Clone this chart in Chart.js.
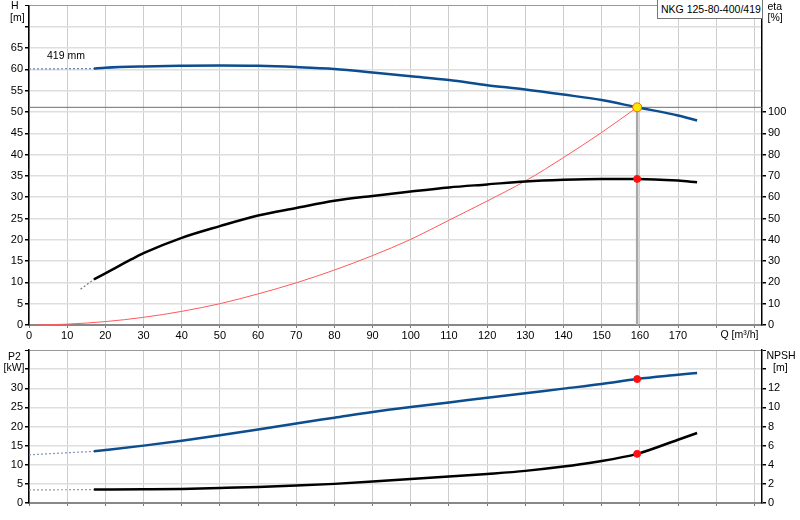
<!DOCTYPE html>
<html>
<head>
<meta charset="utf-8">
<script src="https://cdn.jsdelivr.net/npm/chart.js@4.4.1/dist/chart.umd.min.js"></script>
<style>
  html, body { margin: 0; padding: 0; background: #fff; }
  #wrap { position: relative; width: 800px; height: 520px; overflow: hidden; font-family: "Liberation Sans", Arial, sans-serif; font-size: 10.5px; color: #000; }
  canvas { position: absolute; left: 0; }
  #top { top: 0; }
  #bottom { top: 345px; }
  .t { position: absolute; line-height: 12px; white-space: nowrap; z-index: 2; }
  #model { position: absolute; left: 657px; top: -1px; width: 101px; height: 18px; border: 1px solid #777; background: #fff; line-height: 19px; padding-left: 3px; z-index: 2; white-space: nowrap; }
</style>
</head>
<body>
<div id="wrap">
  <canvas id="top" width="800" height="345"></canvas>
  <canvas id="bottom" width="800" height="175"></canvas>
  <div class="t" style="left:11px;top:-1.5px">H</div>
  <div class="t" style="left:10px;top:10.5px">[m]</div>
  <div class="t" style="left:767.5px;top:-0.5px">eta</div>
  <div class="t" style="left:767.5px;top:10.5px">[%]</div>
  <div class="t" style="left:720.5px;top:328px">Q [m³/h]</div>
  <div class="t" style="left:47px;top:48.5px">419 mm</div>
  <div id="model">NKG 125-80-400/419</div>
  <div class="t" style="left:8px;top:349.5px">P2</div>
  <div class="t" style="left:3.5px;top:360.5px">[kW]</div>
  <div class="t" style="left:766.5px;top:349px">NPSH</div>
  <div class="t" style="left:773px;top:360.5px">[m]</div>
</div>
<script>
// flow axis
const qMax = 192;

// head curve H [m]
const qH = [17, 20, 30, 40, 50, 60, 70, 80, 90, 100, 110, 120, 130, 140, 150, 159.3, 170, 175];
const hVals = [60.2, 60.4, 60.7, 60.85, 60.93, 60.85, 60.55, 60.1, 59.3, 58.4, 57.5, 56.3, 55.3, 54.1, 52.8, 51.1, 49.2, 48.0];
const qHDot = [0, 17];
const hDot = [60.1, 60.2];

// efficiency eta [%]
const qEta = [17, 20, 27, 30, 40, 50, 60, 70, 80, 90, 100, 110, 120, 130, 140, 150, 159.3, 170, 175];
const etaVals = [21.4, 24.2, 31.0, 33.7, 40.9, 46.4, 51.4, 54.9, 58.3, 60.6, 62.7, 64.6, 66, 67.4, 68.2, 68.6, 68.6, 67.8, 67.0];
const qEtaDot = [13.5, 17];
const etaDot = [16.8, 21.4];

// system curve
const qSys = [1.5, 10, 20, 30, 40, 50, 60, 70, 80, 90, 100, 110, 120, 130, 140, 150, 159.3];
const hSys = [0, 0.2, 0.8, 1.8, 3.2, 5.0, 7.3, 9.9, 12.9, 16.3, 20.1, 24.6, 29.1, 33.8, 39.3, 45.2, 51.1];

// power P2 [kW]
const qP2 = [17, 30, 40, 50, 60, 70, 80, 90, 100, 110, 120, 130, 140, 150, 159.3, 170, 175];
const p2Vals = [13.5, 15.0, 16.3, 17.7, 19.2, 20.8, 22.3, 23.8, 25.1, 26.3, 27.5, 28.7, 29.9, 31.1, 32.4, 33.5, 34.0];
const qP2Dot = [0, 17];
const p2Dot = [12.6, 13.5];

// NPSH [m]
const qNpsh = [17, 30, 40, 50, 60, 70, 80, 90, 100, 110, 120, 130, 140, 148, 159.3, 170, 175];
const npshVals = [1.4, 1.43, 1.47, 1.57, 1.68, 1.82, 2.0, 2.24, 2.52, 2.76, 3.04, 3.36, 3.81, 4.27, 5.14, 6.62, 7.32];
const qNpshDot = [0, 17];
const npshDot = [1.37, 1.4];

// duty point
const dutyQ = 159.3;
const dutyH = 51.1;
const dutyEta = 68.6;
const dutyP2 = 32.4;
const dutyNpsh = 5.14;

const BLUE = '#0b4d8e';
const FONT = { family: '"Liberation Sans", Arial, sans-serif', size: 11 };

function pts(xs, ys) {
  return xs.map((x, i) => ({ x: x, y: ys[i] }));
}

function line(data, color, width, yAxisID, extra) {
  return Object.assign({
    data: data, borderColor: color, borderWidth: width, yAxisID: yAxisID,
    pointRadius: 0, fill: false, cubicInterpolationMode: 'monotone'
  }, extra || {});
}

function dot(x, y, yAxisID, fillColor, edge, r) {
  return {
    data: [{ x: x, y: y }], yAxisID: yAxisID, showLine: false,
    pointRadius: r, pointBackgroundColor: fillColor, pointBorderColor: edge, pointBorderWidth: 1
  };
}

function xAxis(showLabels, h) {
  return {
    type: 'linear', min: 0, max: qMax,
    ticks: {
      display: showLabels, stepSize: 10, includeBounds: false, autoSkip: false, maxRotation: 0,
      padding: 1, color: '#000', font: FONT,
      callback: v => (v <= 170 ? v : '')
    },
    grid: { color: '#cdcdcd', lineWidth: 1, tickLength: 3, tickColor: '#777' },
    border: { color: '#888', width: 2 },
    afterFit: s => { s.height = h; s.paddingLeft = 0; s.paddingRight = 0; }
  };
}

function yAxis(pos, max, step, lastLabel, onChart, w) {
  return {
    position: pos, min: 0, max: max,
    ticks: {
      stepSize: step, padding: 2, color: '#000', font: FONT,
      callback: v => (v <= lastLabel ? v : '')
    },
    grid: {
      drawOnChartArea: onChart,
      color: c => (c.tick && c.tick.value === max ? '#999' : '#dedede'),
      lineWidth: c => (c.tick && c.tick.value === max ? 1 : 1.5),
      tickLength: 4,
      tickColor: c => (!onChart && c.tick && c.tick.value > lastLabel && max === 150 ? 'rgba(0,0,0,0)' : '#000')
    },
    border: { color: '#000', width: 1.5 },
    afterFit: s => { s.width = w; s.paddingTop = 0; s.paddingBottom = 0; }
  };
}

const common = {
  responsive: false,
  animation: false,
  devicePixelRatio: 1,
  plugins: { legend: { display: false }, tooltip: { enabled: false } }
};

new Chart(document.getElementById('top').getContext('2d'), {
  type: 'line',
  data: {
    datasets: [
      dot(dutyQ, dutyH, 'y', '#ffe600', '#e07000', 4.5),
      dot(dutyQ, dutyEta, 'eta', '#ff1010', '#ff1010', 3.5),
      line(pts(qH, hVals), BLUE, 2.5, 'y'),
      line(pts(qHDot, hDot), '#6a86b0', 1.2, 'y', { borderDash: [2, 2] }),
      line(pts(qEta, etaVals), '#000', 2.5, 'eta'),
      line(pts(qEtaDot, etaDot), '#777', 1.2, 'eta', { borderDash: [2, 2] }),
      line(pts(qSys, hSys), '#ff5a5a', 1, 'y'),
      line([{ x: 0, y: dutyH }, { x: qMax, y: dutyH }], '#6e6e6e', 1, 'y', { cubicInterpolationMode: 'default' }),
      line([{ x: dutyQ, y: 0 }, { x: dutyQ, y: dutyH }], '#a8a8a8', 2.5, 'y', { cubicInterpolationMode: 'default' })
    ]
  },
  options: Object.assign({}, common, {
    layout: { padding: { top: 1, left: 0, right: 0, bottom: 0 } },
    scales: {
      x: xAxis(true, 20),
      y: yAxis('left', 75, 5, 65, true, 29),
      eta: yAxis('right', 150, 10, 100, false, 38)
    }
  })
});

new Chart(document.getElementById('bottom').getContext('2d'), {
  type: 'line',
  data: {
    datasets: [
      dot(dutyQ, dutyP2, 'y', '#ff1010', '#ff1010', 3.5),
      dot(dutyQ, dutyNpsh, 'npsh', '#ff1010', '#ff1010', 3.5),
      line(pts(qP2, p2Vals), BLUE, 2.5, 'y'),
      line(pts(qP2Dot, p2Dot), '#7f93b8', 1.2, 'y', { borderDash: [2, 2] }),
      line(pts(qNpsh, npshVals), '#000', 2.5, 'npsh'),
      line(pts(qNpshDot, npshDot), '#9a9a9a', 1.2, 'npsh', { borderDash: [2, 2] })
    ]
  },
  options: Object.assign({}, common, {
    layout: { padding: { top: 5, left: 0, right: 0, bottom: 0 } },
    scales: {
      x: xAxis(false, 17),
      y: yAxis('left', 40, 5, 30, true, 29),
      npsh: yAxis('right', 16, 2, 12, false, 38)
    }
  })
});
</script>
</body>
</html>
